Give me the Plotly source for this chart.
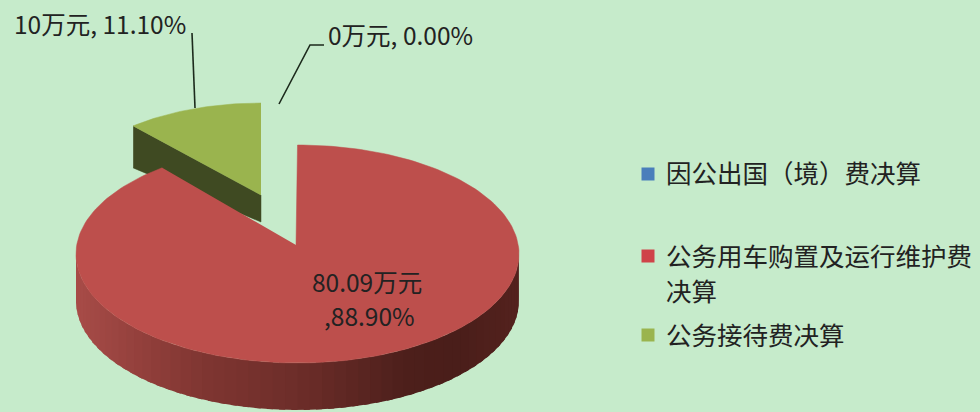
import numpy as np
import plotly.graph_objects as go

# ---- data ----
categories = ["因公出国（境）费决算", "公务用车购置及运行维护费决算", "公务接待费决算"]
legend_lines = ["因公出国（境）费决算", "公务用车购置及运行维护费<br>决算", "公务接待费决算"]
amounts = ["0", "80.09", "10"]
percents = [0.00, 88.90, 11.10]

# ---- style ----
BG = "#c6ebcb"
RED_TOP, GREEN_TOP, BLUE = "#bd4f4c", "#9ab44e", "#4a7ebb"
GREEN_WALL = "#3f4a22"
TXT = "#222222"
FONT = "Noto Sans CJK SC"
FS = 24.5
FS_LEG = 25.5

# ---- 3-D pie projection (pixel space, y down) ----
RED = dict(cx=297.5, cy=254, a=221.5, b=109, ax=296, ay=245, depth=47)
GRN = dict(cx=261, cy=201, a=199, b=98, ax=261, ay=195, depth=27)
WARP = 0.0626


def rim(p, deg, z=0.0):
    t = np.radians(deg)
    t = t - WARP * np.sin(t) * (p is RED)
    return p["cx"] + p["a"] * np.sin(t), p["cy"] - p["b"] * np.cos(t) + z


def poly(x, y, color, name=None, lw=0.5):
    return go.Scatter(x=list(x), y=list(y), mode="lines", fill="toself", fillcolor=color,
                      line=dict(color=color, width=lw), hoverinfo="skip", showlegend=False, name=name)


red_sweep = percents[1] / 100 * 360
grn_sweep = percents[2] / 100 * 360
fig = go.Figure()

# green slice: cut wall then top
gx, gy = rim(GRN, 360 - grn_sweep)
fig.add_trace(poly([gx, GRN["ax"], GRN["ax"], gx],
                   [gy, GRN["ay"], GRN["ay"] + GRN["depth"], gy + 42], GREEN_WALL))
a = np.linspace(360 - grn_sweep, 360, 40)
x, y = rim(GRN, a)
fig.add_trace(poly([GRN["ax"], *x], [GRN["ay"], *y], GREEN_TOP, categories[2]))

# red slice: shaded outer wall, strip by strip
stops_x = [76, 130, 200, 300, 400, 450, 519]
stops_c = [(168, 76, 72), (150, 66, 62), (128, 54, 50), (108, 45, 41), (78, 32, 28), (74, 30, 26), (84, 34, 30)]
edges = np.linspace(90, 270, 61)
for d0, d1 in zip(edges[:-1], edges[1:]):
    seg = np.linspace(d0, min(d1 + 1.5, 270), 5)
    xt, yt = rim(RED, seg)
    xb, yb = rim(RED, seg, RED["depth"])
    xm = xt.mean()
    c = [int(np.interp(xm, stops_x, [s[i] for s in stops_c])) for i in range(3)]
    fig.add_trace(poly([*xt, *xb[::-1]], [*yt, *yb[::-1]], f"rgb({c[0]},{c[1]},{c[2]})", lw=0))

# red slice: top face
a = np.linspace(0, red_sweep, 200)
x, y = rim(RED, a)
fig.add_trace(poly([RED["ax"], *x], [RED["ay"], *y], RED_TOP, categories[1]))

# leader lines
for lx, ly in [((192, 195), (33, 108)), ((279, 310, 324), (104, 45, 45))]:
    fig.add_trace(go.Scatter(x=list(lx), y=list(ly), mode="lines", line=dict(color="#1c2a1c", width=1.6),
                             hoverinfo="skip", showlegend=False))

# legend squares
leg_y = [174, 256, 335]
fig.add_trace(go.Scatter(x=[648, 648, 648], y=leg_y, mode="markers", hoverinfo="skip", showlegend=False,
                         marker=dict(symbol="square", size=13, color=[BLUE, "#cf4349", "#9ab44e"], line=dict(width=0))))

ann = []


def txt(x, y, s, anchor="left", size=FS):
    ann.append(dict(x=x, y=y, xref="x", yref="y", text=s, showarrow=False, xanchor=anchor, yanchor="middle",
                    align="left", font=dict(family=FONT, size=size, color=TXT)))


txt(100, 23, f"{amounts[2]}万元, {percents[2]:.2f}%", "center")
txt(400, 34, f"{amounts[0]}万元, {percents[0]:.2f}%", "center")
txt(367, 281, f"{amounts[1]}万元", "center")
txt(369, 315, f",{percents[1]:.2f}%", "center")
txt(664, 171, legend_lines[0], size=FS_LEG)
txt(664, 254, legend_lines[1].split("<br>")[0], size=FS_LEG)
txt(664, 289, legend_lines[1].split("<br>")[1], size=FS_LEG)
txt(664, 333, legend_lines[2], size=FS_LEG)

fig.update_layout(
    width=980, height=412, margin=dict(l=0, r=0, t=0, b=0), autosize=False,
    paper_bgcolor=BG, plot_bgcolor=BG, showlegend=False, annotations=ann,
    xaxis=dict(range=[0, 980], visible=False, fixedrange=True),
    yaxis=dict(range=[412, 0], visible=False, fixedrange=True),
)
fig.write_html("out.html", config=dict(displayModeBar=False),
               post_script="document.body.style.margin='0';document.documentElement.style.background='#c6ebcb';")
